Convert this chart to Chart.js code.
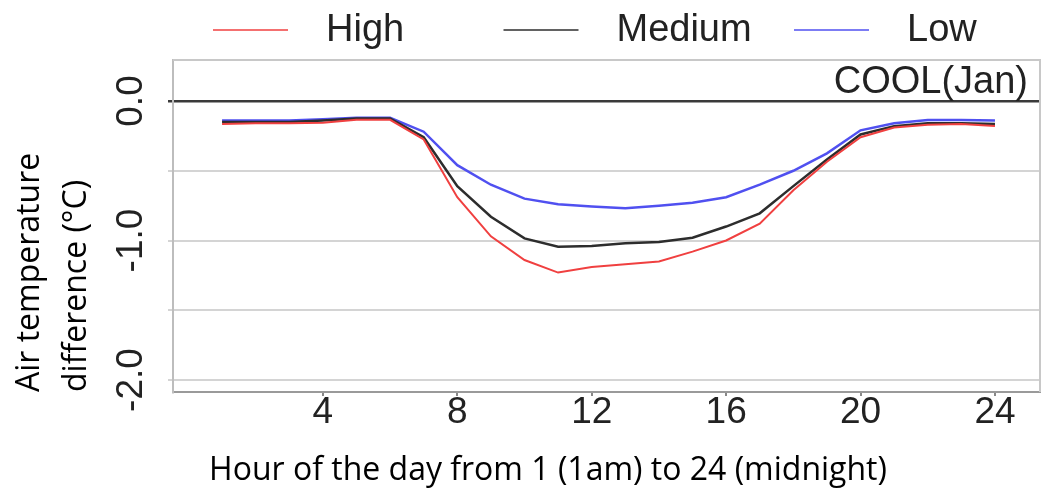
<!DOCTYPE html>
<html>
<head>
<meta charset="utf-8">
<title>COOL(Jan)</title>
<script src="https://cdn.jsdelivr.net/npm/chart.js@4.4.0/dist/chart.umd.min.js"></script>
<style>
  html, body { margin: 0; padding: 0; background: #fff; }
  #wrap { width: 1042px; height: 494px; }
</style>
</head>
<body>
<div id="wrap"><canvas id="coolChart" width="1042" height="494"></canvas></div>
<script>
// hours 1..24, values
const hours = [1, 2, 3, 4, 5, 6, 7, 8, 9, 10, 11, 12, 13, 14, 15, 16, 17, 18, 19, 20, 21, 22, 23, 24];
const highValues = [-0.165, -0.16, -0.16, -0.155, -0.135, -0.135, -0.275, -0.69, -0.97, -1.14, -1.23, -1.19,
                    -1.17, -1.15, -1.08, -1.0, -0.88, -0.64, -0.435, -0.26, -0.19, -0.17, -0.165, -0.18];
const mediumValues = [-0.15, -0.15, -0.15, -0.14, -0.125, -0.125, -0.26, -0.61, -0.83, -0.985, -1.044, -1.04,
                      -1.02, -1.01, -0.98, -0.9, -0.805, -0.61, -0.42, -0.24, -0.18, -0.16, -0.16, -0.165];
const lowValues = [-0.14, -0.14, -0.14, -0.13, -0.12, -0.12, -0.22, -0.46, -0.6, -0.7, -0.74, -0.756,
                   -0.768, -0.75, -0.73, -0.69, -0.6, -0.5, -0.375, -0.21, -0.16, -0.136, -0.136, -0.14];

const seriesNames = ['High', 'Medium', 'Low'];
const xTickValues = [4, 8, 12, 16, 20, 24];
const yTickValues = [0, -0.5, -1, -1.5, -2];
const panelLabel = 'COOL(Jan)';
const xTitle = 'Hour of the day from 1 (1am) to 24 (midnight)';
const yTitle = ['Air temperature', 'difference (°C)'];

const colors = ['rgb(240, 64, 64)', 'rgb(45, 45, 45)', 'rgb(80, 80, 240)'];
const tickFont = { family: '"Liberation Sans", Arial, sans-serif', size: 37, lineHeight: 1 };

function toPoints(values) {
  return hours.map((h, i) => ({ x: h, y: values[i] }));
}

// legend, panel label, x title and the top/right box edges
const extrasPlugin = {
  id: 'extras',
  afterDraw(chart) {
    const { ctx, chartArea: a } = chart;
    ctx.save();

    ctx.strokeStyle = '#c8c8c8';
    ctx.lineWidth = 2;
    ctx.beginPath();
    ctx.moveTo(a.left, a.top);
    ctx.lineTo(a.right, a.top);
    ctx.lineTo(a.right, a.bottom);
    ctx.stroke();

    ctx.fillStyle = '#222';
    ctx.font = '38px "Liberation Sans", Arial, sans-serif';
    ctx.textAlign = 'right';
    ctx.textBaseline = 'alphabetic';
    ctx.fillText(panelLabel, a.right - 12, 93);

    chart.data.datasets.forEach((ds, i) => {
      const x0 = 213 + i * 290.5;
      ctx.strokeStyle = ds.borderColor;
      ctx.globalAlpha = 0.75;
      ctx.lineWidth = 2;
      ctx.beginPath();
      ctx.moveTo(x0, 30);
      ctx.lineTo(x0 + 75, 30);
      ctx.stroke();
      ctx.globalAlpha = 1;
      ctx.textAlign = 'left';
      ctx.textBaseline = 'middle';
      ctx.fillText(ds.label, x0 + 113, 31);
    });

    ctx.fillStyle = '#000';
    ctx.font = '32px "Open Sans", sans-serif';
    ctx.textAlign = 'center';
    ctx.textBaseline = 'middle';
    ctx.fillText(xTitle, 548, 471);

    ctx.restore();
  }
};

function drawChart() {
  const ctx = document.getElementById('coolChart').getContext('2d');

  new Chart(ctx, {
    type: 'line',
    data: {
      datasets: [highValues, mediumValues, lowValues].map((vals, i) => ({
        label: seriesNames[i],
        data: toPoints(vals),
        borderColor: colors[i],
        borderWidth: i === 0 ? 2 : 2.5,
        pointRadius: 0,
        tension: 0,
        fill: false
      }))
    },
    options: {
      responsive: false,
      animation: false,
      devicePixelRatio: 1,
      layout: { padding: { top: 60, right: 2, left: 0, bottom: 0 } },
      plugins: {
        legend: { display: false },
        tooltip: { enabled: false }
      },
      scales: {
        x: {
          type: 'linear',
          min: -0.46,
          max: 25.34,
          afterBuildTicks: s => { s.ticks = xTickValues.map(v => ({ value: v })); },
          afterFit: s => { s.height = 102; },
          ticks: {
            autoSkip: false,
            maxRotation: 0,
            padding: -2,
            color: '#222',
            font: tickFont
          },
          grid: { drawOnChartArea: false, drawTicks: true, tickLength: 4, color: '#888', lineWidth: 2 },
          border: { color: '#9a9a9a', width: 2 }
        },
        y: {
          min: -2.086,
          max: 0.294,
          afterBuildTicks: s => { s.ticks = yTickValues.map(v => ({ value: v })); },
          afterFit: s => { s.width = 173; },
          ticks: {
            autoSkip: false,
            minRotation: 90,
            maxRotation: 90,
            crossAlign: 'center',
            padding: 4,
            color: '#222',
            font: tickFont,
            callback: v => (Number.isInteger(v) ? v.toFixed(1) : '')
          },
          grid: {
            tickLength: 5,
            color: c => (c.tick && c.tick.value === 0 ? '#3a3a3a' : '#d4d4d4'),
            lineWidth: c => (c.tick && c.tick.value === 0 ? 2.5 : 2)
          },
          border: { color: '#bdbdbd', width: 2 },
          title: {
            display: true,
            text: yTitle,
            align: 'start',
            color: '#000',
            padding: { top: 6, bottom: 0 },
            font: { family: '"Open Sans", sans-serif', size: 32, lineHeight: 1.47 }
          }
        }
      }
    },
    plugins: [extrasPlugin]
  });
}

window.onload = drawChart;
</script>
</body>
</html>
